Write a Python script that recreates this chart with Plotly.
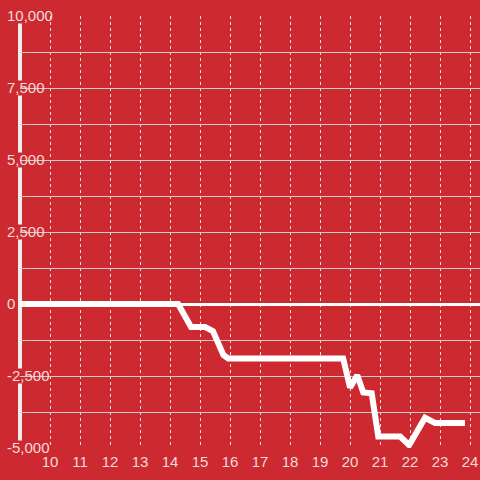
import plotly.graph_objects as go

# ---- data ----
hours = [9, 14.27, 14.7, 15.17, 15.43, 15.78, 15.94, 19.77, 20.0, 20.24,
         20.44, 20.72, 20.94, 21.67, 21.97, 22.5, 22.83, 23.83]
values = [0, 0, -800, -800, -940, -1770, -1890, -1890, -2900, -2470,
          -3070, -3100, -4600, -4600, -4900, -3950, -4130, -4130]

x_tickvals = list(range(10, 25))
y_tickvals = [-5000, -3750, -2500, -1250, 0, 1250, 2500, 3750, 5000,
              6250, 7500, 8750, 10000]
y_ticktext = ["-5,000", "", "-2,500", "", "0", "", "2,500", "", "5,000",
              "", "7,500", "", "10,000"]

# ---- style ----
BG = "#cc2a30"
LABEL = "#f2dadb"
GRID = "#cdcdcd"
VGRID = "#e2e2e2"
FONT = "Liberation Sans, Arial, sans-serif"
FS = 15

W, H = 480, 480
ML, MR, MT, MB = 20, 0, 16, 32
plot_w = W - ML - MR
plot_h = H - MT - MB
y_range = [-5000, 10000]
units_per_px = (y_range[1] - y_range[0]) / plot_h

fig = go.Figure()
fig.add_trace(go.Scatter(x=hours, y=values, mode="lines",
                         line=dict(color="white", width=6),
                         hoverinfo="skip", showlegend=False))

# y-axis bar drawn as a shape so the label backgrounds can mask it
shapes = [dict(type="line", xref="paper", yref="y", x0=0, x1=0,
               y0=y_range[0], y1=y_range[1],
               line=dict(color="#eeeeee", width=4), layer="between")]

char_w = {"-": 0.333 * FS, ",": 0.278 * FS}
label_left = 5
for v, t in zip(y_tickvals, y_ticktext):
    if not t:
        continue
    wpx = sum(char_w.get(c, 0.556 * FS) for c in t)
    x1px = label_left + wpx + 2
    shapes.append(dict(type="rect", xref="paper", yref="y",
                       x0=(0 - ML) / plot_w, x1=(x1px - ML) / plot_w,
                       y0=v - 7.5 * units_per_px, y1=v + 7.5 * units_per_px,
                       fillcolor=BG, line=dict(width=0), layer="between"))

fig.update_layout(
    width=W, height=H,
    margin=dict(l=ML, r=MR, t=MT, b=MB, pad=0),
    paper_bgcolor=BG, plot_bgcolor=BG,
    font=dict(family=FONT, size=FS, color=LABEL),
    showlegend=False,
    shapes=shapes,
    xaxis=dict(range=[9, 24.33], tickvals=x_tickvals,
               showgrid=True, gridcolor=VGRID, gridwidth=1, griddash="dot",
               zeroline=False, showline=False, ticks="",
               ticklabelstandoff=3,
               tickfont=dict(size=FS, color=LABEL), automargin=False,
               fixedrange=True),
    yaxis=dict(range=y_range, tickvals=y_tickvals, ticktext=y_ticktext,
               showgrid=True, gridcolor=GRID, gridwidth=1,
               zeroline=True, zerolinecolor="white", zerolinewidth=3,
               showline=False, ticks="",
               anchor="free", position=0, side="right",
               ticklabelstandoff=-14,
               tickfont=dict(size=FS, color=LABEL), automargin=False,
               fixedrange=True),
)

fig.write_html("out.html", config={"displayModeBar": False},
               post_script="document.body.style.margin='0';")
